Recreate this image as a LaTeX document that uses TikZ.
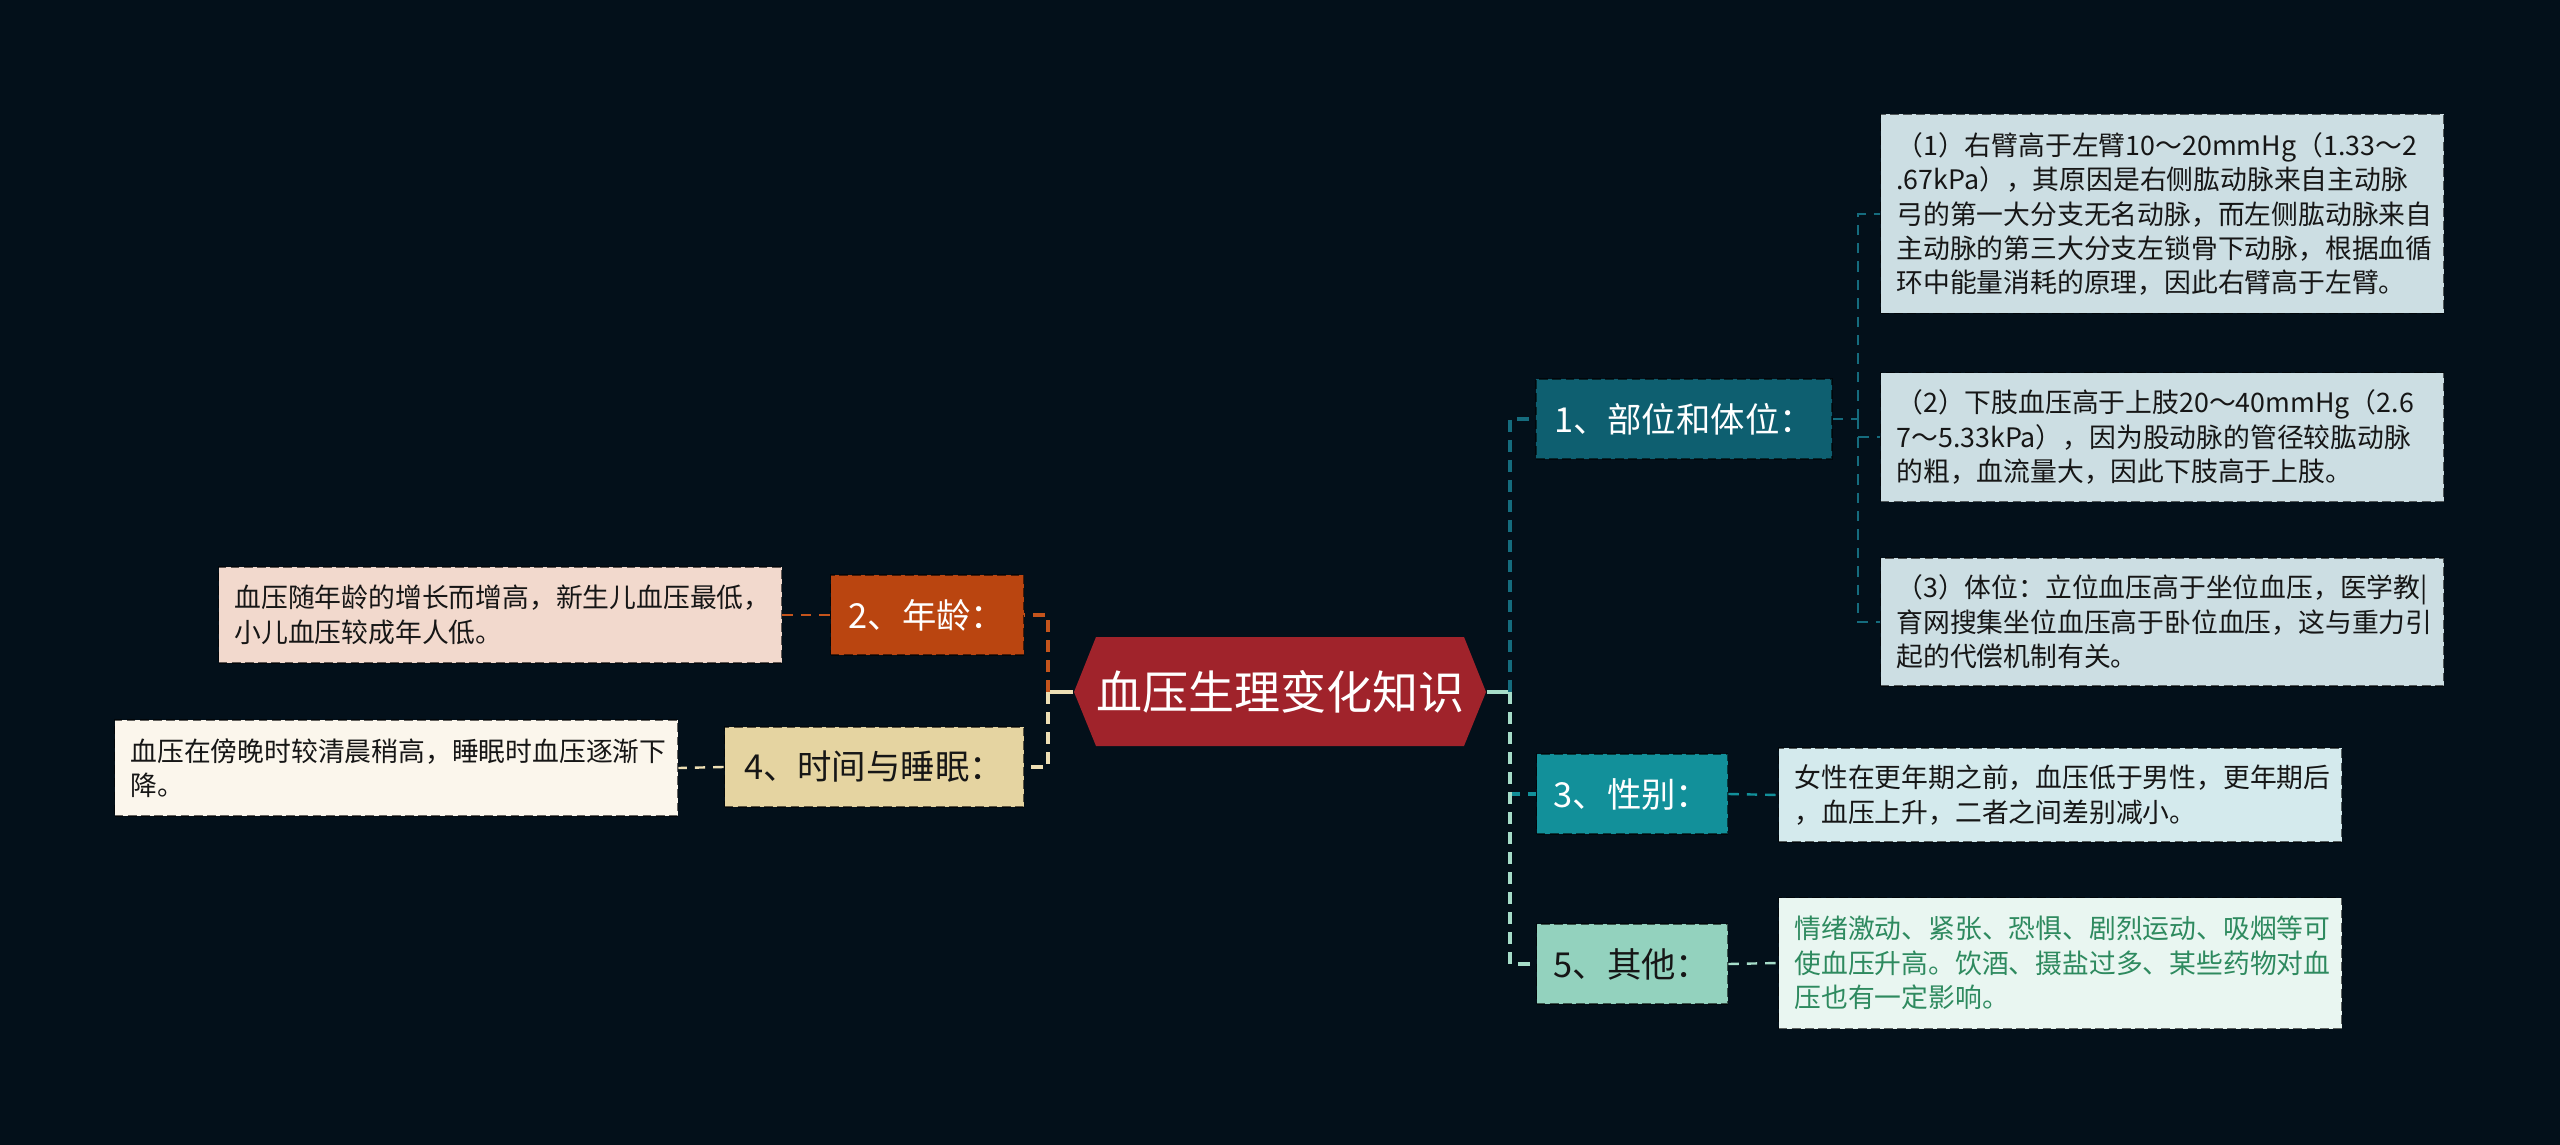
\documentclass[tikz,border=0pt]{standalone}
\usepackage{fontspec}
\setmainfont{Noto Sans CJK SC}
\definecolor{bgnavy}{HTML}{03101A}
\definecolor{rootred}{HTML}{A0232B}
\definecolor{posteal}{HTML}{0E5F70}
\definecolor{sexteal}{HTML}{12909A}
\definecolor{othmint}{HTML}{93D2BE}
\definecolor{ageorange}{HTML}{BA4510}
\definecolor{timebeige}{HTML}{E5D4A1}
\definecolor{posleaf}{HTML}{CCDEE3}
\definecolor{sexleaf}{HTML}{D4EAED}
\definecolor{othleaf}{HTML}{E9F6F1}
\definecolor{ageleaf}{HTML}{F2D9CD}
\definecolor{timeleaf}{HTML}{FBF6EC}
\definecolor{leaftext}{HTML}{161616}
\definecolor{othtext}{HTML}{2E8A5F}
\definecolor{poslink}{HTML}{156C7E}
\definecolor{othlink}{HTML}{A6DDC9}
\definecolor{agelink}{HTML}{C4541C}
\definecolor{timelink}{HTML}{EEDFB4}
\begin{document}
\begin{tikzpicture}[x=0.25pt,y=-0.25pt]
\tikzstyle{every node}+=[inner sep=0pt]
\tikzstyle{box}=[draw=black, draw opacity=0.6, dash pattern=on 2.2pt off 1.1pt, line width=0.45pt]
\tikzstyle{topic}=[box, minimum height=20pt, font=\fontsize{8.6}{10}\selectfont]
\tikzstyle{leaf}=[box, align=left, inner xsep=4pt, text width=132.75pt, text=leaftext, font=\fontsize{6.7}{8.6}\selectfont]
\tikzstyle{link}=[dash pattern=on 3pt off 2pt, line width=0.9pt]
\tikzstyle{thinlink}=[dash pattern=on 2.6pt off 2pt, line width=0.6pt]
\useasboundingbox (0,0) rectangle (2560,1145);
\fill [bgnavy] (0,0) rectangle (2560,1145);
% root
\fill [rootred] (1096,637) -- (1464,637) -- (1486,692) -- (1464,746) -- (1096,746) -- (1074,692) -- cycle;
\node (root) at (1280,692) [minimum width=103pt, minimum height=27.25pt, text=white, font=\fontsize{11.5}{13}\selectfont] {血压生理变化知识};
% topics
\node (pos) at (1684,419) [topic, fill=posteal, text=white, minimum width=74pt] {1、部位和体位：};
\node (sex) at (1632,794) [topic, fill=sexteal, text=white, minimum width=47.75pt] {3、性别：};
\node (oth) at (1632,964) [topic, fill=othmint, text=leaftext, minimum width=47.75pt] {5、其他：};
\node (age) at (927,615) [topic, fill=ageorange, text=white, minimum width=48.25pt] {2、年龄：};
\node (time) at (874,767) [topic, fill=timebeige, text=leaftext, minimum width=74.75pt] {4、时间与睡眠：};
% leaves
\node (posa) at (2162,214) [leaf, fill=posleaf, minimum height=49.75pt] {（1）右臂高于左臂10～20mmHg（1.33～2\\.67kPa），其原因是右侧肱动脉来自主动脉\\弓的第一大分支无名动脉，而左侧肱动脉来自\\主动脉的第三大分支左锁骨下动脉，根据血循\\环中能量消耗的原理，因此右臂高于左臂。};
\node (posb) at (2162,437) [leaf, fill=posleaf, minimum height=32.25pt] {（2）下肢血压高于上肢20～40mmHg（2.6\\7～5.33kPa），因为股动脉的管径较肱动脉\\的粗，血流量大，因此下肢高于上肢。};
\node (posc) at (2162,622) [leaf, fill=posleaf, minimum height=32pt] {（3）体位：立位血压高于坐位血压，医学教|\\育网搜集坐位血压高于卧位血压，这与重力引\\起的代偿机制有关。};
\node (sexa) at (2060,795) [leaf, fill=sexleaf, minimum height=23.5pt] {女性在更年期之前，血压低于男性，更年期后\\，血压上升，二者之间差别减小。};
\node (otha) at (2060,963) [leaf, fill=othleaf, text=othtext, minimum height=32.75pt] {情绪激动、紧张、恐惧、剧烈运动、吸烟等可\\使血压升高。饮酒、摄盐过多、某些药物对血\\压也有一定影响。};
\node (agea) at (500,615) [leaf, fill=ageleaf, minimum height=24pt] {血压随年龄的增长而增高，新生儿血压最低，\\小儿血压较成年人低。};
\node (timea) at (396,768) [leaf, fill=timeleaf, minimum height=24pt] {血压在傍晚时较清晨稍高，睡眠时血压逐渐下\\降。};
% bus points
\coordinate (rbus) at (1510,692);
\coordinate (lbus) at (1048,692);
\coordinate (pbus) at (1858,419);
% root to topics
\draw [othlink, line width=0.9pt] (root.east) -- (rbus);
\draw [link, poslink] (rbus) |- (pos.west);
\draw [link, sexteal] (rbus) |- (sex.west);
\draw [link, othlink] (rbus) |- (oth.west);
\draw [timelink, line width=0.9pt] (root.west) -- (lbus);
\draw [link, agelink] (lbus) |- (age.east);
\draw [link, timelink] (lbus) |- (time.east);
% topics to leaves
\draw [thinlink, poslink] (pos.east) -- (pbus);
\draw [thinlink, poslink] (pbus) |- (posa.west);
\draw [thinlink, poslink] (pbus) |- (posb.west);
\draw [thinlink, poslink] (pbus) |- (posc.west);
\draw [thinlink, sexteal] (sex.east) -- (sexa.west);
\draw [thinlink, othlink] (oth.east) -- (otha.west);
\draw [thinlink, agelink] (age.west) -- (agea.east);
\draw [thinlink, timelink] (time.west) -- (timea.east);
\end{tikzpicture}
\end{document}
